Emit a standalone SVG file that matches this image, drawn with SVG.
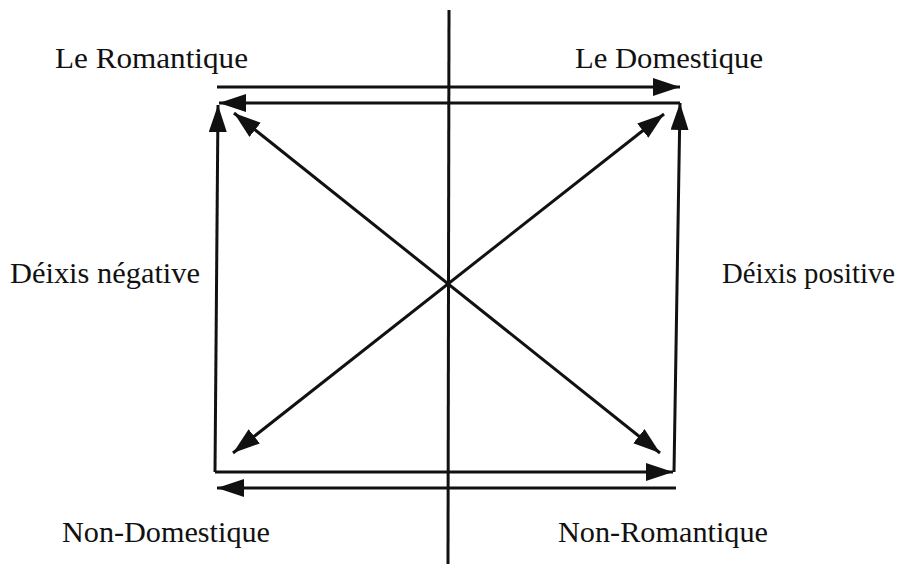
<svg xmlns="http://www.w3.org/2000/svg" width="901" height="564" viewBox="0 0 901 564">
<style>
  .ln { stroke: #111; stroke-width: 3; fill: none; }
  .lbl { font-family: "Liberation Serif", "Times New Roman", serif; font-size: 30px; fill: #111; }
</style>
<defs>
  <marker id="ah" markerUnits="userSpaceOnUse" markerWidth="28" markerHeight="20" refX="27" refY="9" orient="auto-start-reverse">
    <path d="M0,0 L27,9 L0,18 Z" fill="#111"/>
  </marker>
</defs>
<rect width="901" height="564" fill="#fff"/>
<g id="connectors">
  <line class="ln" x1="449" y1="10" x2="448" y2="564"/>
  <line class="ln" x1="217" y1="87" x2="680" y2="87" marker-end="url(#ah)"/>
  <line class="ln" x1="680" y1="103" x2="219" y2="103" marker-end="url(#ah)"/>
  <line class="ln" x1="215" y1="472" x2="218" y2="105" marker-end="url(#ah)"/>
  <line class="ln" x1="674" y1="472" x2="680" y2="103" marker-end="url(#ah)"/>
  <line class="ln" x1="215" y1="472" x2="673" y2="472" marker-end="url(#ah)"/>
  <line class="ln" x1="676" y1="488" x2="217" y2="488" marker-end="url(#ah)"/>
  <line class="ln" x1="234" y1="113" x2="660" y2="453" marker-start="url(#ah)" marker-end="url(#ah)"/>
  <line class="ln" x1="664" y1="114" x2="233" y2="453" marker-start="url(#ah)" marker-end="url(#ah)"/>
</g>
<g id="le-romantique"><text class="lbl" x="55" y="68" textLength="193" lengthAdjust="spacingAndGlyphs">Le Romantique</text></g>
<g id="le-domestique"><text class="lbl" x="575" y="68" textLength="188" lengthAdjust="spacingAndGlyphs">Le Domestique</text></g>
<g id="deixis-negative"><text class="lbl" x="10" y="283" textLength="190" lengthAdjust="spacingAndGlyphs">Déixis négative</text></g>
<g id="deixis-positive"><text class="lbl" x="722" y="283" textLength="173" lengthAdjust="spacingAndGlyphs">Déixis positive</text></g>
<g id="non-domestique"><text class="lbl" x="62" y="542" textLength="208" lengthAdjust="spacingAndGlyphs">Non-Domestique</text></g>
<g id="non-romantique"><text class="lbl" x="558" y="542" textLength="210" lengthAdjust="spacingAndGlyphs">Non-Romantique</text></g>
</svg>
